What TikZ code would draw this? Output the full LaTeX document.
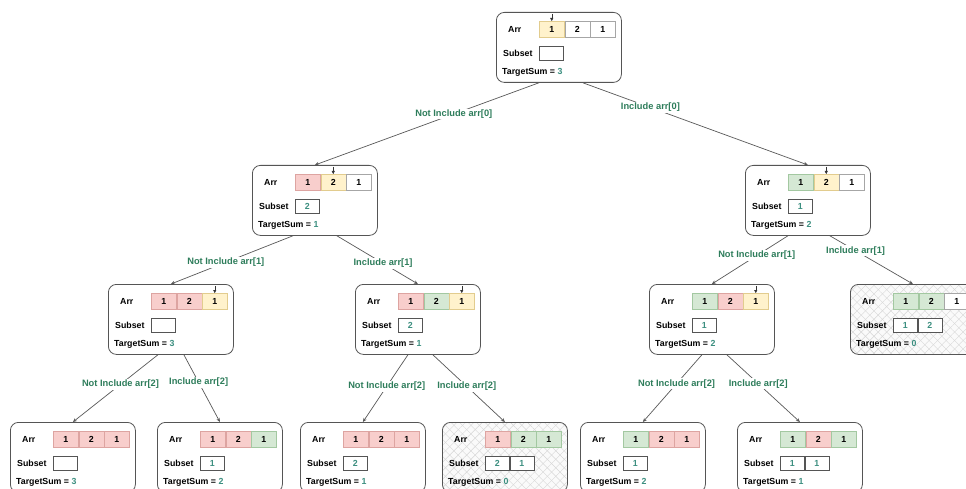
\documentclass[tikz,border=0pt]{standalone}
\usepackage{fontspec}
\setmainfont{Liberation Sans}
\usetikzlibrary{calc,arrows.meta,patterns.meta}
\definecolor{cellred}{HTML}{F8CECC}
\definecolor{cellredd}{HTML}{DDA4A1}
\definecolor{cellgreen}{HTML}{D5E8D4}
\definecolor{cellgreend}{HTML}{A3C8A1}
\definecolor{cellyellow}{HTML}{FFF2CC}
\definecolor{cellyellowd}{HTML}{E2CC8E}
\definecolor{edgegreen}{HTML}{2E7D5B}
\definecolor{valcol}{HTML}{3C8F80}
\definecolor{boxline}{HTML}{555555}
\newcommand{\lblfont}{\fontsize{8.8}{10}\selectfont\bfseries}
\tikzset{
  treebox/.style={draw=boxline, line width=0.8pt, rounded corners=8pt, fill=white,
    minimum width=125pt, minimum height=70pt, inner sep=0pt, anchor=north west},
  hatched/.style={fill=none, preaction={fill=gray!4},
    preaction={pattern={Lines[angle=45,distance=6pt,line width=0.4pt]}, pattern color=gray!32},
    preaction={pattern={Lines[angle=-45,distance=6pt,line width=0.4pt]}, pattern color=gray!32}},
  plainbox/.style={},
  lbl/.style={inner sep=0pt, font=\lblfont, text=black},
  cell/.style={minimum width=25pt, minimum height=16pt, inner sep=0pt, font=\lblfont, line width=0.5pt},
  rc/.style={cell, fill=cellred, draw=cellredd},
  gc/.style={cell, fill=cellgreen, draw=cellgreend},
  yc/.style={cell, fill=cellyellow, draw=cellyellowd},
  wc/.style={cell, fill=white, draw=gray!70},
  sbox/.style={draw=boxline, line width=0.6pt, fill=white, minimum width=24pt, minimum height=14pt,
    inner sep=0pt, font=\lblfont, text=valcol},
  edge/.style={draw=black!65, line width=0.7pt, -{Stealth[length=4pt,width=3.5pt]}},
  curarrow/.style={draw=black!80, line width=0.4pt, -{Triangle[length=3pt,width=3pt]}},
  elabel/.style={fill=white, inner sep=1pt, text=edgegreen, font=\fontsize{9.3}{11}\selectfont\bfseries}
}
\newcommand{\snone}{\node[sbox,anchor=north west] (\curname-s1) at ($(\curname.north west)+(43,34)$) {};}
\newcommand{\sone}[1]{\node[sbox,anchor=north west] (\curname-s1) at ($(\curname.north west)+(43,34)$) {#1};}
\newcommand{\stwo}[2]{\sone{#1}\node[sbox,anchor=west] (\curname-s2) at (\curname-s1.east) {#2};}
% #1 name #2 position #3-#5 cell styles #6 subset #7 target #8 current cell #9 box style
\newcommand{\tnode}[9]{%
  \def\curname{#1}%
  \node[treebox,#9] (#1) at #2 {};
  \node[lbl,anchor=west] (#1-arrl) at ($(#1.north west)+(12,17)$) {Arr};
  \node[#3,anchor=north west] (#1-a1) at ($(#1.north west)+(43,9)$) {1};
  \node[#4,anchor=west] (#1-a2) at (#1-a1.east) {2};
  \node[#5,anchor=west] (#1-a3) at (#1-a2.east) {1};
  \node[lbl,anchor=west] (#1-subl) at ($(#1.north west)+(7,41)$) {Subset};
  #6
  \node[lbl,anchor=west] (#1-ts) at ($(#1.north west)+(6,60)$) {TargetSum = \textcolor{valcol}{#7}};
  \ifnum#8>0
    \coordinate (#1-cur) at ($(#1-a#8.north)+(0,-7)$);
    \draw[curarrow] (#1-cur) -- (#1-a#8.north);
  \fi
}
\begin{document}
\begin{tikzpicture}[x=1pt,y=-1pt]
\path[use as bounding box] (0,0) rectangle (966,489);
\clip (0,0) rectangle (966,489);
\fill[white] (0,0) rectangle (966,489);

\tnode{N0}{(496,12)}{yc}{wc}{wc}{\snone}{3}{1}{plainbox}
\tnode{L1a}{(252,165)}{rc}{yc}{wc}{\sone{2}}{1}{2}{plainbox}
\tnode{L1b}{(745,165)}{gc}{yc}{wc}{\sone{1}}{2}{2}{plainbox}
\tnode{L2a}{(108,284)}{rc}{rc}{yc}{\snone}{3}{3}{plainbox}
\tnode{L2b}{(355,284)}{rc}{gc}{yc}{\sone{2}}{1}{3}{plainbox}
\tnode{L2c}{(649,284)}{gc}{rc}{yc}{\sone{1}}{2}{3}{plainbox}
\tnode{L2d}{(850,284)}{gc}{gc}{wc}{\stwo{1}{2}}{0}{0}{hatched}
\tnode{L3a}{(10,422)}{rc}{rc}{rc}{\snone}{3}{0}{plainbox}
\tnode{L3b}{(157,422)}{rc}{rc}{gc}{\sone{1}}{2}{0}{plainbox}
\tnode{L3c}{(300,422)}{rc}{rc}{rc}{\sone{2}}{1}{0}{plainbox}
\tnode{L3d}{(442,422)}{rc}{gc}{gc}{\stwo{2}{1}}{0}{0}{hatched}
\tnode{L3e}{(580,422)}{gc}{rc}{rc}{\sone{1}}{2}{0}{plainbox}
\tnode{L3f}{(737,422)}{gc}{rc}{gc}{\stwo{1}{1}}{1}{0}{plainbox}

% edge start points
\coordinate (N0l) at ($(N0.south)+(-20,0)$);
\coordinate (N0r) at ($(N0.south)+(24,0)$);
\coordinate (L1al) at ($(L1a.south)+(-22,0)$);
\coordinate (L1ar) at ($(L1a.south)+(22,0)$);
\coordinate (L1bl) at ($(L1b.south)+(-20,0)$);
\coordinate (L1br) at ($(L1b.south)+(22,0)$);
\coordinate (L2al) at ($(L2a.south)+(-13,0)$);
\coordinate (L2ar) at ($(L2a.south)+(13,0)$);
\coordinate (L2bl) at ($(L2b.south)+(-10,0)$);
\coordinate (L2br) at ($(L2b.south)+(15,0)$);
\coordinate (L2cl) at ($(L2c.south)+(-10,0)$);
\coordinate (L2cr) at ($(L2c.south)+(15,0)$);

\draw[edge] (N0l) -- node[elabel,pos=0.38] {Not Include arr[0]} (L1a.north);
\draw[edge] (N0r) -- node[elabel,pos=0.30] {Include arr[0]} (L1b.north);
\draw[edge] (L1al) -- node[elabel,pos=0.55] {Not Include arr[1]} (L2a.north);
\draw[edge] (L1ar) -- node[elabel,pos=0.57] {Include arr[1]} (L2b.north);
\draw[edge] (L1bl) -- node[elabel,pos=0.41] {Not Include arr[1]} (L2c.north);
\draw[edge] (L1br) -- node[elabel,pos=0.31] {Include arr[1]} (L2d.north);
\draw[edge] (L2al) -- node[elabel,pos=0.44] {Not Include arr[2]} (L3a.north);
\draw[edge] (L2ar) -- node[elabel,pos=0.41] {Include arr[2]} (L3b.north);
\draw[edge] (L2bl) -- node[elabel,pos=0.47] {Not Include arr[2]} (L3c.north);
\draw[edge] (L2br) -- node[elabel,pos=0.47] {Include arr[2]} (L3d.north);
\draw[edge] (L2cl) -- node[elabel,pos=0.43] {Not Include arr[2]} (L3e.north);
\draw[edge] (L2cr) -- node[elabel,pos=0.43] {Include arr[2]} (L3f.north);
\end{tikzpicture}
\end{document}
